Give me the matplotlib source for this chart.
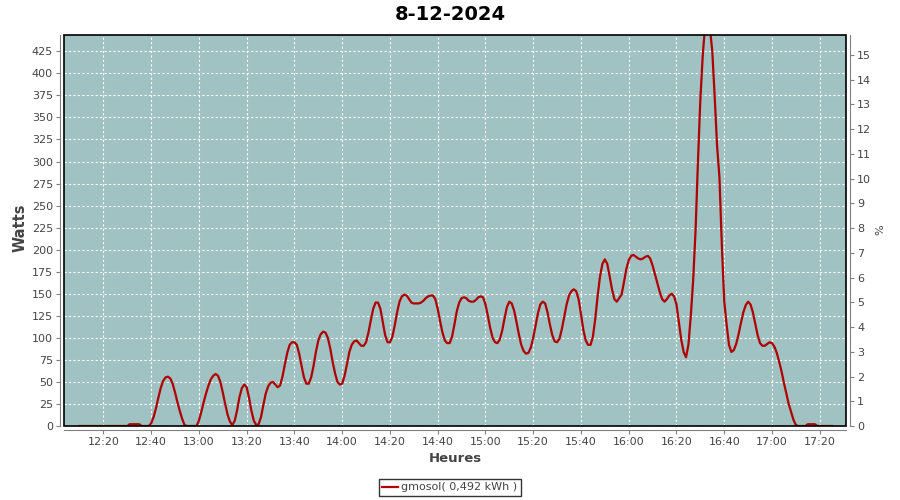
import numpy as np
import pandas as pd
import matplotlib
matplotlib.use("Agg")
import matplotlib.pyplot as plt
import matplotlib.dates as mdates
from matplotlib.patches import Rectangle

# one reading per minute, starting 12:10
day = "2024-12-08"
start = "12:10"
watts = [
    0, 0, 0, 0, 0, 0, 0, 0, 0, 0,            # 12:10
    0, 0, 0, 0, 0, 0, 0, 0, 0, 0,            # 12:20
    0, 2, 2, 2, 2, 2, 0, 0, 0, 0,            # 12:30
    3, 10, 20, 32, 43, 51, 55, 56, 54, 48,   # 12:40
    38, 27, 17, 8, 1, 0, 0, 0, 0, 0,         # 12:50
    6, 16, 27, 37, 46, 53, 57, 59, 57, 50,   # 13:00
    38, 25, 13, 5, 1, 6, 18, 33, 43, 47,     # 13:10
    44, 32, 17, 6, 1, 2, 10, 24, 37, 45,     # 13:20
    49, 50, 47, 44, 46, 56, 70, 83, 92, 95,  # 13:30
    95, 92, 82, 68, 55, 48, 48, 55, 68, 84,  # 13:40
    97, 104, 107, 106, 100, 88, 73, 60, 50, 47,      # 13:50
    48, 57, 70, 84, 92, 96, 97, 94, 91, 91,          # 14:00
    95, 106, 120, 133, 140, 140, 133, 118, 103, 95,  # 14:10
    95, 101, 114, 129, 141, 147, 149, 148, 144, 140, # 14:20
    139, 139, 139, 140, 142, 145, 147, 148, 148, 144, # 14:30
    133, 119, 106, 97, 94, 94, 101, 115, 130, 140,   # 14:40
    145, 146, 145, 142, 141, 141, 143, 146, 147, 146, # 14:50
    138, 125, 111, 100, 95, 94, 98, 108, 122, 135,   # 15:00
    141, 139, 131, 118, 104, 92, 85, 82, 83, 89,     # 15:10
    100, 114, 128, 138, 141, 139, 129, 115, 103, 96, # 15:20
    95, 99, 110, 124, 138, 148, 153, 155, 153, 144,  # 15:30
    127, 109, 97, 92, 92, 101, 122, 148, 170, 184,   # 15:40
    189, 184, 170, 155, 144, 141, 145, 149, 163, 178, # 15:50
    188, 193, 194, 192, 190, 189, 190, 192, 193, 190, # 16:00
    182, 172, 162, 152, 144, 141, 144, 148, 150, 147, # 16:10
    138, 118, 98, 84, 78, 92, 125, 166, 222, 300,    # 16:20
    370, 420, 455, 478, 452, 425, 374, 318, 282, 205, # 16:30
    142, 115, 92, 84, 86, 93, 104, 117, 129, 137,    # 16:40
    141, 138, 129, 116, 103, 94, 91, 91, 93, 95,     # 16:50
    94, 90, 83, 73, 62, 49, 37, 25, 16, 7,           # 17:00
    1, 0, 0, 0, 0, 2, 2, 2, 2, 0,                    # 17:10
    0, 0, 0, 0, 0, 0,                                # 17:20
]
times = pd.date_range(f"{day} {start}", periods=len(watts), freq="min")

watt_ticks = list(range(0, 426, 25))
pct_ticks = list(range(0, 16))
series_label = "gmosol( 0,492 kWh )"

bg = "#A0C2C2"
red = "#B00000"
grey = "#808080"
txt = "#444444"

fig = plt.figure(figsize=(9, 5), dpi=100)
ax = fig.add_axes([64 / 900, 74 / 500, 782 / 900, 391 / 500])
ax.set_facecolor(bg)
line, = ax.plot(times, watts, color=red, lw=1.6, label=series_label)

ax.set_xlim(pd.Timestamp(f"{day} 12:03:30"), pd.Timestamp(f"{day} 17:31"))
ax.set_ylim(0, 443.5)
ax.set_yticks(watt_ticks)
ax.xaxis.set_major_locator(mdates.MinuteLocator(byminute=[0, 20, 40]))
ax.xaxis.set_major_formatter(mdates.DateFormatter("%H:%M"))
ax.grid(True, color="white", linestyle=(0, (2, 2)), lw=0.8)

for s in ("top", "right"):
    ax.spines[s].set_visible(False)
for s in ("left", "bottom"):
    ax.spines[s].set_position(("outward", 3))
    ax.spines[s].set_color(grey)
ax.tick_params(colors=grey, labelcolor=txt, labelsize=8, length=3, width=0.8, pad=2)

ax2 = ax.twinx()
ax2.set_ylim(0, 15.81)
ax2.set_yticks(pct_ticks)
for s in ("top", "left", "bottom"):
    ax2.spines[s].set_visible(False)
ax2.spines["right"].set_position(("outward", 3))
ax2.spines["right"].set_color(grey)
ax2.tick_params(colors=grey, labelcolor=txt, labelsize=8, length=3, width=0.8, pad=2)

# black border round the plot area
ax2.add_patch(Rectangle((0, 0), 1, 1, transform=ax2.transAxes, fill=False,
                        ec="black", lw=1.2, clip_on=False, zorder=10))

fig.text(0.5, 1 - 14 / 500, "8-12-2024", ha="center", va="center",
         fontsize=14, weight="bold")
fig.text(20 / 900, 1 - 228 / 500, "Watts", rotation=90, ha="center", va="center",
         fontsize=10.5, weight="bold", color=txt)
fig.text(880 / 900, 1 - 230 / 500, "%", rotation=90, ha="center", va="center",
         fontsize=8, color=txt)
fig.text(455 / 900, 1 - 459 / 500, "Heures", ha="center", va="center",
         fontsize=9.5, weight="bold", color=txt)

leg = fig.legend(handles=[line], loc="center", bbox_to_anchor=(0.5, 1 - 487.5 / 500),
                 fontsize=8, frameon=True, fancybox=False, handlelength=1.4,
                 handletextpad=0.3, borderpad=0.35, borderaxespad=0)
leg.get_frame().set_edgecolor("black")
leg.get_frame().set_linewidth(1)
for t in leg.get_texts():
    t.set_color(txt)

fig.savefig("out.png", dpi=100)
